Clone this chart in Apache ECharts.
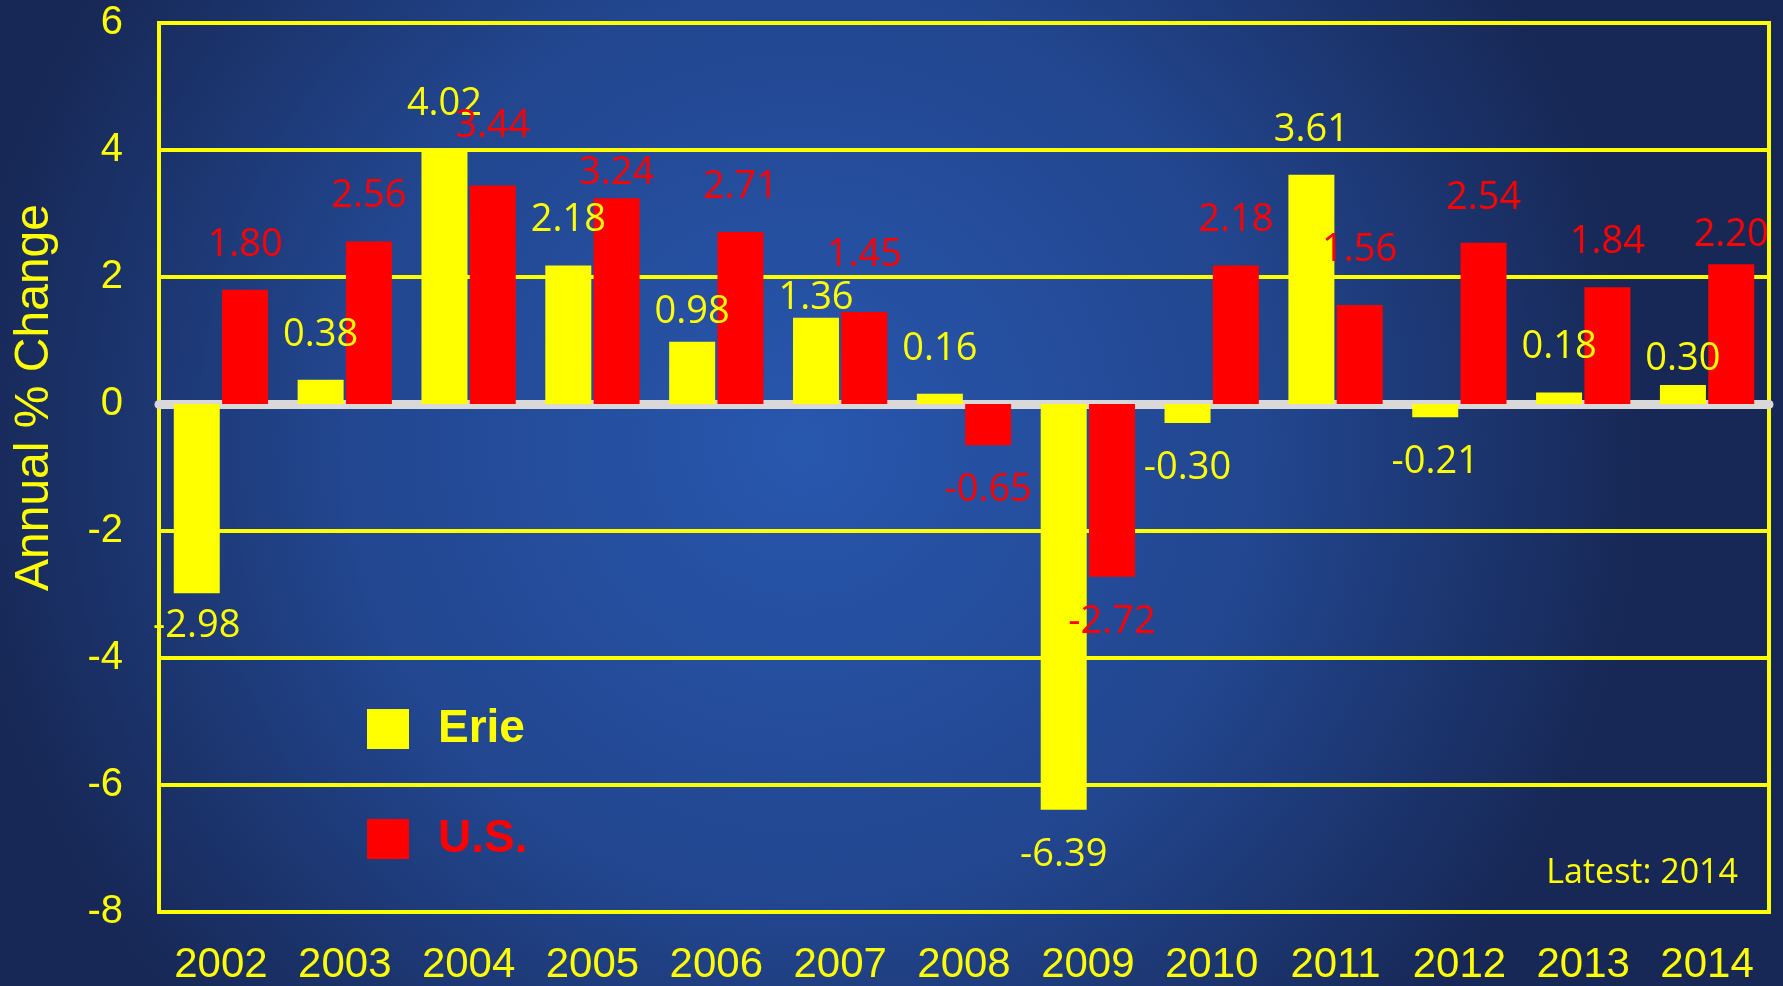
<!DOCTYPE html>
<html>
<head>
<meta charset="utf-8">
<script src="https://cdn.jsdelivr.net/npm/echarts@6/dist/echarts.min.js"></script>
<style>
  html, body { margin: 0; padding: 0; }
  #box { width: 1783px; height: 986px; }
</style>
</head>
<body>
<div id="box"></div>
<script>
// years on the x axis
var years = ['2002', '2003', '2004', '2005', '2006', '2007', '2008', '2009', '2010', '2011', '2012', '2013', '2014']
// annual % change
var erie = [-2.98, 0.38, 4.02, 2.18, 0.98, 1.36, 0.16, -6.39, -0.30, 3.61, -0.21, 0.18, 0.30]
var us = [1.80, 2.56, 3.44, 3.24, 2.71, 1.45, -0.65, -2.72, 2.18, 1.56, 2.54, 1.84, 2.20]

var YELLOW = '#ffff00'
var RED = '#ff0000'

// a few labels were nudged by hand in the original slide (px, down is +)
var labelNudge = {
  'Erie-0': -12, 'Erie-4': 15, 'Erie-5': 26, 'Erie-12': 19,
  'US-2': -14, 'US-3': 20, 'US-5': -12, 'US-9': -10, 'US-12': 16
}

function withLabelSide(arr, key) {
  // labels go above positive bars, below negative ones
  return arr.map(function (v, i) {
    var dy = labelNudge[key + '-' + i] || 0
    return { value: v, label: { position: v < 0 ? 'bottom' : 'top', offset: [0, dy] } }
  })
}

var chart = echarts.init(document.getElementById('box'))

var option = {
  backgroundColor: new echarts.graphic.RadialGradient(0.45, 0.45, 0.85, [
    { offset: 0, color: '#2857ae' },
    { offset: 0.55, color: '#22468f' },
    { offset: 1, color: '#172856' }
  ]),
  animation: false,
  grid: {
    left: 159,
    right: 14,
    top: 23,
    bottom: 70,
    show: true,
    borderColor: YELLOW,
    borderWidth: 4
  },
  legend: {
    orient: 'vertical',
    left: 362,
    top: 701,
    icon: 'rect',
    itemWidth: 42,
    itemHeight: 40,
    itemGap: 64,
    textStyle: {
      fontFamily: 'Liberation Sans',
      fontWeight: 'bold',
      fontSize: 46,
      lineHeight: 46,
      padding: [0, 0, 0, 24]
    },
    data: [
      { name: 'Erie', textStyle: { color: YELLOW } },
      { name: 'U.S.', textStyle: { color: RED } }
    ]
  },
  graphic: [
    {
      type: 'text',
      right: 45,
      top: 856,
      style: {
        text: 'Latest: 2014',
        fill: YELLOW,
        font: '34px "Open Sans"'
      }
    }
  ],
  xAxis: {
    type: 'category',
    data: years,
    axisTick: { show: false },
    axisLine: {
      onZero: true,
      lineStyle: { color: '#d9d9d9', width: 9 }
    },
    axisLabel: {
      color: YELLOW,
      fontFamily: 'Liberation Sans',
      fontSize: 42,
      margin: 32,
      interval: 0,
      verticalAlign: 'top'
    }
  },
  yAxis: {
    type: 'value',
    min: -8,
    max: 6,
    interval: 2,
    name: 'Annual % Change',
    nameLocation: 'middle',
    nameGap: 100,
    nameTextStyle: {
      color: YELLOW,
      fontFamily: 'Liberation Sans',
      fontSize: 48,
      // pushes the title up a little from the plot's middle
      padding: [0, 0, 0, 140]
    },
    axisLine: { show: false },
    axisTick: { show: false },
    axisLabel: {
      color: YELLOW,
      fontFamily: 'Liberation Sans',
      fontSize: 40,
      margin: 36
    },
    splitLine: {
      lineStyle: { color: YELLOW, width: 4 }
    }
  },
  series: [
    {
      name: 'Erie',
      type: 'bar',
      barWidth: 46,
      barGap: '5%',
      itemStyle: { color: YELLOW },
      label: {
        show: true,
        color: YELLOW,
        fontFamily: 'Open Sans',
        fontSize: 38,
        distance: 26,
        formatter: function (p) { return p.value.toFixed(2) }
      },
      data: withLabelSide(erie, 'Erie')
    },
    {
      name: 'U.S.',
      type: 'bar',
      barWidth: 46,
      barGap: '5%',
      itemStyle: { color: RED },
      label: {
        show: true,
        color: RED,
        fontFamily: 'Open Sans',
        fontSize: 38,
        distance: 26,
        formatter: function (p) { return p.value.toFixed(2) }
      },
      data: withLabelSide(us, 'US')
    }
  ]
}

chart.setOption(option)
</script>
</body>
</html>
